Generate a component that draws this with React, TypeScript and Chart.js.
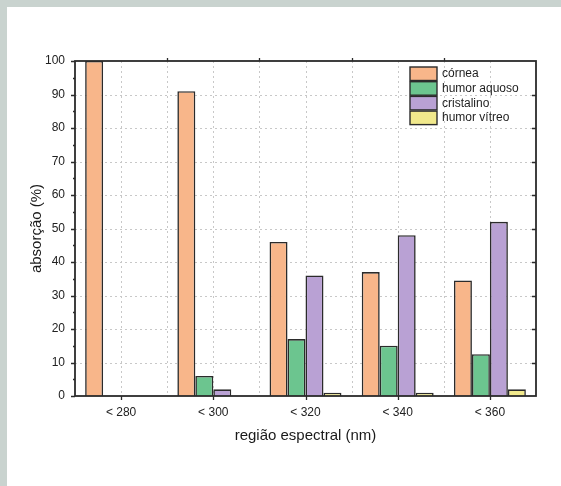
import React, { useEffect, useRef } from 'react';
import { Chart, registerables } from 'chart.js';
Chart.register(...registerables);

const categories = ['< 280', '< 300', '< 320', '< 340', '< 360'];
const cornea = [100, 91, 46, 37, 34.5];
const humorAquoso = [0, 6, 17, 15, 12.5];
const cristalino = [0, 2, 36, 48, 52];
const humorVitreo = [0, 0, 1, 1, 2];
const seriesLabels = ['córnea', 'humor aquoso', 'cristalino', 'humor vítreo'];
const seriesColors = ['#f8b68a', '#6cc58f', '#b9a1d4', '#f1e98c'];
const yMin = 0;
const yMax = 100;
const yStep = 10;
const xTitle = 'região espectral (nm)';
const yTitle = 'absorção (%)';

const FONT = "'Liberation Sans', Arial, sans-serif";
const AXIS = '#2b2b2b';

const framePlugin = {
  id: 'framePlugin',
  beforeDatasetsDraw(chart: any) {
    const { ctx, chartArea: a, scales } = chart;
    const x = scales.x;
    const y = scales.y;
    ctx.save();
    ctx.strokeStyle = '#c8c8c8';
    ctx.lineWidth = 1;
    ctx.setLineDash([2, 3]);
    const n = chart.data.labels.length;
    const vline = (px: number) => {
      const p = Math.round(px) + 0.5;
      ctx.beginPath();
      ctx.moveTo(p, a.top);
      ctx.lineTo(p, a.bottom);
      ctx.stroke();
    };
    for (let i = 0; i < n; i++) {
      const c = x.getPixelForValue(i);
      vline(c);
      if (i < n - 1) vline((c + x.getPixelForValue(i + 1)) / 2);
    }
    y.ticks.forEach((t: any) => {
      if (t.value <= yMin || t.value >= yMax) return;
      const p = Math.round(y.getPixelForValue(t.value)) + 0.5;
      ctx.beginPath();
      ctx.moveTo(a.left, p);
      ctx.lineTo(a.right, p);
      ctx.stroke();
    });
    ctx.restore();
  },
  afterDatasetsDraw(chart: any) {
    const { ctx, chartArea: a, scales } = chart;
    const x = scales.x;
    const y = scales.y;
    ctx.save();
    ctx.setLineDash([]);
    ctx.strokeStyle = AXIS;
    ctx.lineWidth = 1.8;
    ctx.strokeRect(a.left, a.top, a.right - a.left, a.bottom - a.top);
    ctx.lineWidth = 1.3;
    const n = chart.data.labels.length;
    ctx.beginPath();
    for (let i = 0; i < n; i++) {
      const c = Math.round(x.getPixelForValue(i)) + 0.5;
      ctx.moveTo(c, a.bottom);
      ctx.lineTo(c, a.bottom + 4);
      if (i < n - 1) {
        const b = Math.round((x.getPixelForValue(i) + x.getPixelForValue(i + 1)) / 2) + 0.5;
        ctx.moveTo(b, a.top);
        ctx.lineTo(b, a.top - 3);
      }
    }
    for (let v = yMin; v <= yMax; v += yStep / 2) {
      const p = Math.round(y.getPixelForValue(v)) + 0.5;
      const major = v % yStep === 0;
      ctx.moveTo(a.left, p);
      ctx.lineTo(a.left - (major ? 4 : 2), p);
      if (major && v > yMin && v < yMax) {
        ctx.moveTo(a.right, p);
        ctx.lineTo(a.right - 4, p);
      }
    }
    ctx.stroke();

    // legend
    const lx = 403;
    const ly = 60;
    const pitch = 14.7;
    chart.data.datasets.forEach((ds: any, i: number) => {
      const top = ly + i * pitch;
      ctx.fillStyle = ds.backgroundColor;
      ctx.fillRect(lx, top, 27, 13.5);
      ctx.strokeStyle = AXIS;
      ctx.lineWidth = 1.4;
      ctx.strokeRect(lx, top, 27, 13.5);
      ctx.fillStyle = '#1e1e1e';
      ctx.font = `12px ${FONT}`;
      ctx.textBaseline = 'middle';
      ctx.textAlign = 'left';
      ctx.fillText(ds.label, lx + 32, top + 7);
    });
    ctx.restore();
  },
};

export default function App() {
  const ref = useRef<HTMLCanvasElement | null>(null);
  useEffect(() => {
    if (!ref.current) return;
    const series = [cornea, humorAquoso, cristalino, humorVitreo];
    const chart = new Chart(ref.current, {
      type: 'bar',
      data: {
        labels: categories,
        datasets: series.map((d, i) => ({
          label: seriesLabels[i],
          data: d,
          backgroundColor: seriesColors[i],
          borderColor: AXIS,
          borderWidth: 1.6,
          borderSkipped: 'bottom',
          categoryPercentage: 0.78,
          barPercentage: 1.0,
        })),
      },
      options: {
        responsive: false,
        animation: false,
        layout: { padding: { top: 54, right: 25, left: 0, bottom: 0 } },
        plugins: { legend: { display: false }, tooltip: { enabled: false } },
        scales: {
          x: {
            grid: { display: false, drawTicks: false },
            border: { display: false },
            ticks: { color: '#222', padding: 9, font: { family: FONT, size: 12 } },
            title: {
              display: true,
              text: xTitle,
              color: '#1a1a1a',
              font: { family: FONT, size: 15 },
              padding: { top: 0, bottom: 41 },
            },
            afterFit: (s: any) => { s.height = 90; },
          },
          y: {
            min: yMin,
            max: yMax,
            grid: { display: false, drawTicks: false },
            border: { display: false },
            ticks: { stepSize: yStep, color: '#222', padding: 10, font: { family: FONT, size: 12 } },
            title: {
              display: true,
              text: yTitle,
              color: '#1a1a1a',
              font: { family: FONT, size: 15 },
              padding: { top: 21, bottom: 0 },
            },
            afterFit: (s: any) => { s.width = 68; },
          },
        },
      },
      plugins: [framePlugin],
    });
    return () => chart.destroy();
  }, []);
  return (
    <div style={{ position: 'absolute', left: 0, top: 0, width: 561, height: 486, background: '#c9d3cf', overflow: 'hidden' }}>
      <div style={{ position: 'absolute', left: 7, top: 7, width: 554, height: 479, background: '#ffffff' }}>
        <canvas ref={ref} width={554} height={479} style={{ display: 'block', width: 554, height: 479 }} />
      </div>
    </div>
  );
}
